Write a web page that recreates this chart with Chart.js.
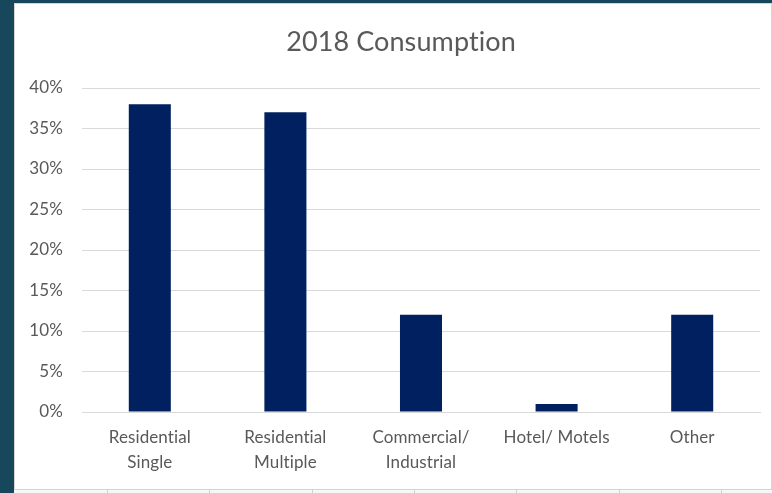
<!DOCTYPE html>
<html>
<head>
<meta charset="utf-8">
<script src="https://cdn.jsdelivr.net/npm/chart.js@4/dist/chart.umd.min.js"></script>
<style>
  html, body { margin: 0; padding: 0; background: #16475b; }
  #wrap { width: 772px; height: 493px; position: relative; }
  canvas { display: block; }
</style>
</head>
<body>
<div id="wrap"><canvas id="c" width="772" height="493"></canvas></div>
<script>
const titleText = "2018 Consumption";
const categories = [["Residential", "Single"], ["Residential", "Multiple"], ["Commercial/", "Industrial"], ["Hotel/ Motels"], ["Other"]];
const consumption = [38, 37, 12, 1, 12];
const yTicks = [0, 5, 10, 15, 20, 25, 30, 35, 40];

const bgPlugin = {
  id: 'panel',
  afterLayout(chart) {
    // let the y-axis label area extend over the left padding (no clipping)
    const y = chart.scales.y;
    y.left = 14;
  },
  beforeDraw(chart) {
    const ctx = chart.ctx;
    ctx.save();
    ctx.fillStyle = '#16475b';
    ctx.fillRect(0, 0, chart.width, chart.height);
    ctx.fillStyle = '#ffffff';
    ctx.fillRect(14, 3, chart.width - 14, 487);
    ctx.strokeStyle = '#d4d4d4';
    ctx.lineWidth = 1;
    ctx.strokeRect(14.5, 3.5, chart.width - 15, 486);
    ctx.fillStyle = '#f7f7f7';
    ctx.fillRect(14, 490, chart.width - 14, 3);
    ctx.strokeStyle = '#cfcfcf';
    for (let x = 107; x < chart.width; x += 102.3) {
      ctx.beginPath();
      ctx.moveTo(Math.round(x) + 0.5, 490);
      ctx.lineTo(Math.round(x) + 0.5, 493);
      ctx.stroke();
    }
    ctx.restore();
    // avoid font ligatures (e.g. "ti") so text looks like the original
    if ('letterSpacing' in ctx) ctx.letterSpacing = '0.1px';
  }
};

new Chart(document.getElementById('c'), {
  type: 'bar',
  data: {
    labels: categories,
    datasets: [{
      data: consumption,
      backgroundColor: '#002060',
      borderWidth: 0,
      categoryPercentage: 1,
      barPercentage: 0.31
    }]
  },
  options: {
    responsive: false,
    animation: false,
    layout: { padding: { left: 42, right: 12, top: 0, bottom: 0 } },
    plugins: {
      legend: { display: false },
      tooltip: { enabled: false },
      title: {
        display: true,
        text: titleText,
        color: '#595959',
        font: { family: 'Lato', size: 27, weight: 'normal' },
        padding: { top: 26, bottom: 29.6 }
      }
    },
    scales: {
      x: {
        grid: { display: false, drawTicks: false },
        border: { display: true, color: '#d9d9d9' },
        ticks: {
          color: '#595959',
          font: { family: 'Lato', size: 17, lineHeight: 1.47 },
          padding: 13,
          maxRotation: 0,
          autoSkip: false
        },
        afterFit(scale) { scale.height = 81; }
      },
      y: {
        min: 0,
        max: 40,
        afterBuildTicks(scale) { scale.ticks = yTicks.map(v => ({ value: v })); },
        grid: { color: '#d9d9d9', drawTicks: false },
        border: { display: false },
        ticks: {
          color: '#595959',
          font: { family: 'Lato', size: 17 },
          padding: 19,
          callback: v => v + '%'
        },
        afterFit(scale) { scale.width = 40; }
      }
    }
  },
  plugins: [bgPlugin]
});
</script>
</body>
</html>
